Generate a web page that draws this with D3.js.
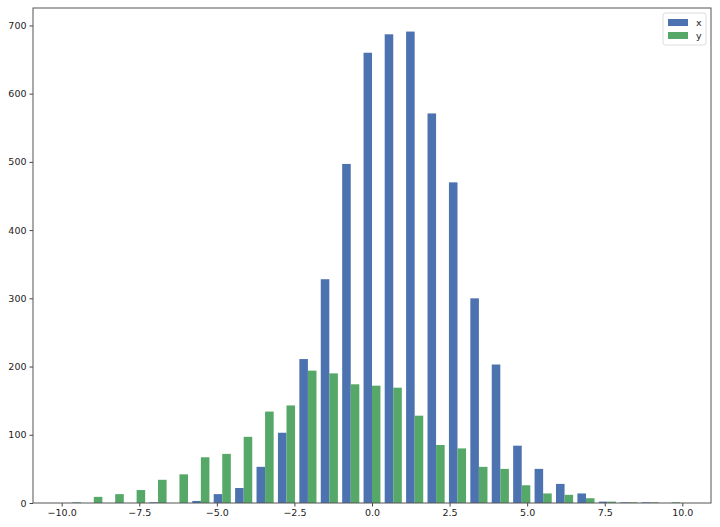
<!DOCTYPE html>
<html>
<head>
<meta charset="utf-8">
<script src="https://cdn.jsdelivr.net/npm/d3@7/dist/d3.min.js"></script>
<style>
  html, body { margin: 0; padding: 0; background: #fff; }
  svg { display: block; font-family: "DejaVu Sans", sans-serif; }
</style>
</head>
<body>
<div id="chart"></div>
<script>
// Bin edges of the histogram (29 bins from -10 to 10)
const binEdges = [-10.00, -9.31, -8.62, -7.93, -7.24, -6.55, -5.86, -5.17, -4.48, -3.79,
    -3.10, -2.41, -1.72, -1.03, -0.34, 0.34, 1.03, 1.72, 2.41, 3.10,
    3.79, 4.48, 5.17, 5.86, 6.55, 7.24, 7.93, 8.62, 9.31, 10.00];

// Counts per bin
const xCounts = [0, 0, 0, 0, 1, 0, 3, 13, 22, 53, 103, 211, 328, 497, 660, 687, 691, 571, 470, 300,
    203, 84, 50, 28, 14, 2, 1, 1, 0];
const yCounts = [1, 9, 13, 19, 34, 42, 67, 72, 97, 134, 143, 194, 190, 174, 172, 169, 128, 85, 80, 53,
    50, 26, 14, 12, 7, 2, 1, 1, 1];

const seriesNames = ['x', 'y'];
const seriesColors = ['#4c72b0', '#55a868'];

const xTicks = [-10, -7.5, -5, -2.5, 0, 2.5, 5, 7.5, 10];
const yTicks = [0, 100, 200, 300, 400, 500, 600, 700];

const W = 720, H = 527;
const margin = { top: 8, right: 9, bottom: 24, left: 33 };

const svg = d3.select('#chart').append('svg')
    .attr('width', W)
    .attr('height', H);

// Domain like matplotlib: bar extents + 5% margin
const lo = binEdges[0], hi = binEdges[binEdges.length - 1];
const bw = (hi - lo) / (binEdges.length - 1);
const dLo = lo + 0.1 * bw, dHi = hi - 0.1 * bw;
const pad = (dHi - dLo) * 0.05;

const x = d3.scaleLinear()
    .domain([dLo - pad, dHi + pad])
    .range([margin.left, W - margin.right]);

const yMax = d3.max(xCounts.concat(yCounts)) * 1.05;
const y = d3.scaleLinear()
    .domain([0, yMax])
    .range([H - margin.bottom, margin.top]);

// Bars: each bin split in two, 0.8 of bin width in total
const series = [xCounts, yCounts];
series.forEach((counts, si) => {
    svg.append('g')
        .selectAll('rect')
        .data(counts.map((c, i) => ({ c, x0: binEdges[i], x1: binEdges[i + 1] })))
        .enter()
        .append('rect')
        .attr('x', d => x(d.x0 + (d.x1 - d.x0) * (0.1 + 0.4 * si)))
        .attr('width', d => x(d.x0 + (d.x1 - d.x0) * 0.4) - x(d.x0))
        .attr('y', d => y(d.c))
        .attr('height', d => y(0) - y(d.c))
        .attr('fill', seriesColors[si]);
});

// Axes
const fmtX = d => d3.format('.1f')(d).replace('-', '\u2212');
const xAxis = svg.append('g')
    .attr('transform', `translate(0,${H - margin.bottom})`)
    .call(d3.axisBottom(x).tickValues(xTicks).tickFormat(fmtX).tickSize(3.5).tickPadding(3));
const yAxis = svg.append('g')
    .attr('transform', `translate(${margin.left},0)`)
    .call(d3.axisLeft(y).tickValues(yTicks).tickSize(3.5).tickPadding(3));

[xAxis, yAxis].forEach(g => {
    g.select('.domain').remove();
    g.selectAll('line').attr('stroke', '#444');
    g.selectAll('text').attr('fill', '#222').attr('font-size', '9.5px')
        .attr('font-family', '"DejaVu Sans", sans-serif');
});

// Frame
svg.append('rect')
    .attr('x', margin.left)
    .attr('y', margin.top)
    .attr('width', W - margin.left - margin.right)
    .attr('height', H - margin.top - margin.bottom)
    .attr('fill', 'none')
    .attr('stroke', '#555')
    .attr('stroke-width', 1);

// Legend
const lg = svg.append('g').attr('transform', `translate(${W - margin.right - 48},${margin.top + 5})`);
lg.append('rect')
    .attr('width', 43).attr('height', 32)
    .attr('rx', 2.5)
    .attr('fill', '#fff')
    .attr('stroke', '#ddd');
seriesNames.forEach((name, i) => {
    lg.append('rect')
        .attr('x', 5).attr('y', 6 + i * 13)
        .attr('width', 20).attr('height', 7)
        .attr('fill', seriesColors[i]);
    lg.append('text')
        .attr('x', 33).attr('y', 9.5 + i * 13)
        .attr('dy', '0.35em')
        .attr('font-size', '9.5px')
        .attr('fill', '#222')
        .text(name);
});
</script>
</body>
</html>
